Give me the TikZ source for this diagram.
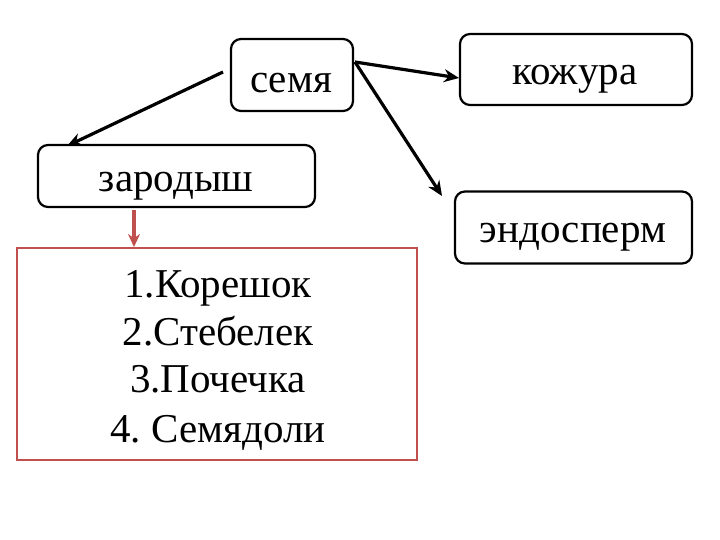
\documentclass[tikz,border=0pt]{standalone}
\usepackage{fontspec}
\setmainfont{Liberation Serif}
\usetikzlibrary{arrows.meta}
\definecolor{redbox}{RGB}{192,80,77}
\begin{document}
\begin{tikzpicture}[x=1pt,y=-1pt,
  box/.style={draw,line width=2.2pt,rounded corners=10pt,inner sep=0pt},
  lbl/.style={font=\fontsize{41}{48}\selectfont,inner sep=0pt,anchor=base},
  arr/.style={line width=3.2pt,-{Stealth[length=15pt,width=13pt]}}]
\useasboundingbox (0,0) rectangle (720,540);
% boxes
\node[box,minimum width=122pt,minimum height=72pt] (semya) at (292,75) {};
\node[box,minimum width=277pt,minimum height=62pt] (zar) at (176.5,176) {};
\node[box,minimum width=232pt,minimum height=71pt] (kozh) at (576,69.5) {};
\node[box,minimum width=237pt,minimum height=72pt] (endo) at (573.5,227.5) {};
\node[draw=redbox,line width=2pt,minimum width=400pt,minimum height=212pt,inner sep=0pt] (list) at (217,354) {};
% labels
\node[lbl] (tsemya) at (291,93) {семя};
\node[lbl] (tzar) at (176,192) {зародыш};
\node[lbl] (tkozh) at (575,85) {кожура};
\node[lbl] (tendo) at (573,242) {эндосперм};
\frenchspacing
\node[lbl] (l1) at (218,297) {1.Корешок};
\node[lbl] (l2) at (218,345) {2.Стебелек};
\node[lbl] (l3) at (218,392) {3.Почечка};
\node[lbl] (l4) at (218,442) {4. Семядоли};
% connectors
\coordinate (s1) at (223,72);
\coordinate (s2) at (355,62);
\coordinate (t1) at (67,146);
\coordinate (t2) at (459,78);
\coordinate (t3) at (442,196);
\draw[arr] (s1) -- (t1);
\draw[arr] (s2) -- (t2);
\draw[arr] (s2) -- (t3);
\coordinate (r1) at (134,210);
\draw[redbox,line width=3.2pt,-{Stealth[length=13pt,width=12pt]}] (r1) -- (list.north -| r1);
\end{tikzpicture}
\end{document}
